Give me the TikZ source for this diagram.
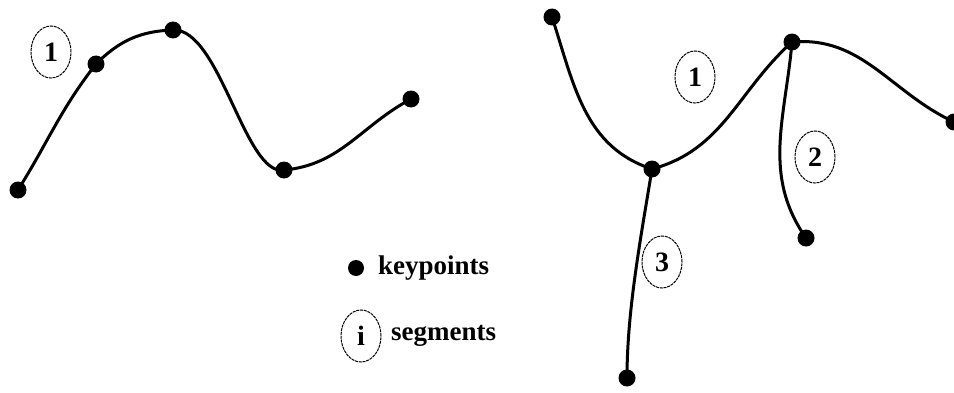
\documentclass[tikz,border=0pt]{standalone}
\usepackage{fontspec}
\setmainfont{Liberation Serif}
\usetikzlibrary{shapes.geometric}
\begin{document}
\begin{tikzpicture}[x=1pt,y=1pt,
  kp/.style={circle,fill=black,inner sep=0pt,minimum size=17pt},
  curve/.style={line width=3pt,line cap=round},
  seg/.style={ellipse,draw,line width=1pt,dash pattern=on 3pt off 0.8pt,minimum width=40pt,minimum height=52pt,inner sep=0pt,font=\fontsize{28}{30}\selectfont\bfseries},
  lab/.style={anchor=west,inner sep=0pt,font=\fontsize{27}{30}\selectfont\bfseries}]
\useasboundingbox (0,0) rectangle (954,392);
% left example
\node[kp] (L1) at (18,202) {};
\node[kp] (L2) at (96,328) {};
\node[kp] (L3) at (173,362) {};
\node[kp] (L4) at (284,222) {};
\node[kp] (L5) at (411,293) {};
\draw[curve] (L1.center) to[out=58,in=232] (L2.center);
\draw[curve] (L2.center) to[out=45,in=182] (L3.center);
\draw[curve] (L3.center) .. controls (220,364) and (245,215) .. (L4.center);
\draw[curve] (L4.center) to[out=5,in=208] (L5.center);
\node[seg] (s1) at (51,340) {1};
% right example
\node[kp] (A) at (552,375) {};
\node[kp] (B) at (652,223) {};
\node[kp] (C) at (792,350) {};
\node[kp] (D) at (954,270) {};
\node[kp] (E) at (806,154) {};
\node[kp] (F) at (627,14) {};
\draw[curve] (A.center) to[out=-72,in=162] (B.center);
\draw[curve] (B.center) to[out=15,in=222] (C.center);
\draw[curve] (C.center) to[out=5,in=155] (D.center);
\draw[curve] (C.center) to[out=-95,in=125] (E.center);
\draw[curve] (B.center) .. controls (640,150) and (627,80) .. (F.center);
\node[seg] (r1) at (695,315) {1};
\node[seg] (r2) at (815,235) {2};
\node[seg] (r3) at (662,130) {3};
% legend
\node[kp,minimum size=16pt] (lk) at (356,124) {};
\node[lab] (tk) at (378,124) {keypoints};
\node[seg] (li) at (361,56) {i};
\node[lab] (ts) at (391,56) {segments};
\end{tikzpicture}
\end{document}
